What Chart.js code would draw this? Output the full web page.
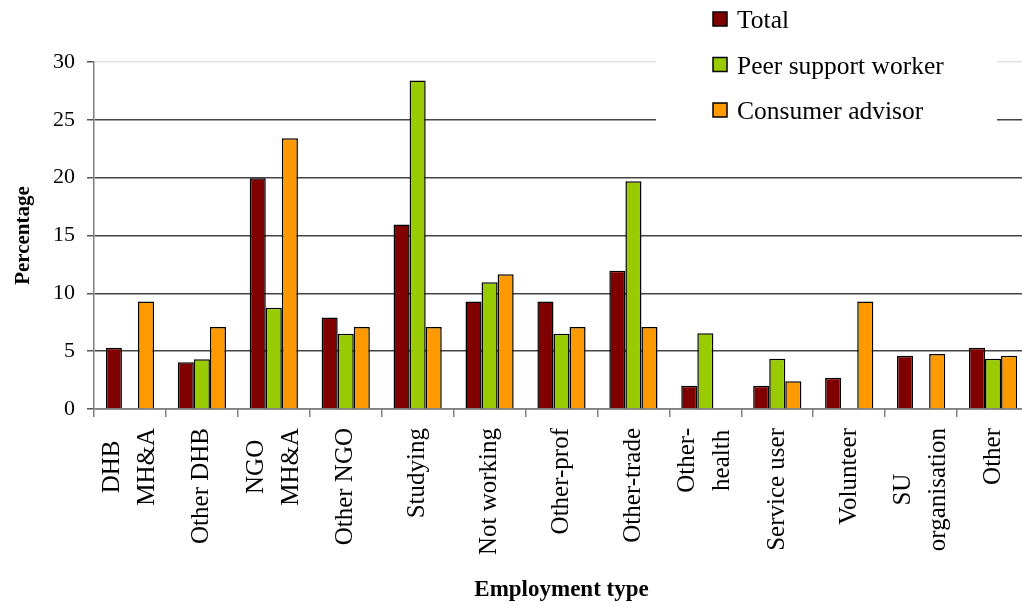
<!DOCTYPE html>
<html>
<head>
<meta charset="utf-8">
<script src="https://cdn.jsdelivr.net/npm/chart.js@4/dist/chart.umd.min.js"></script>
<style>
  html, body { margin: 0; padding: 0; background: #fff; overflow: hidden; }
  #wrap { width: 1030px; height: 606px; position: relative; }
</style>
</head>
<body>
<div id="wrap"><canvas id="c"></canvas></div>
<script>
const categories = [
  ["DHB", "MH&A"], "Other DHB", ["NGO", "MH&A"], "Other NGO", "Studying",
  "Not working", "Other-prof", "Other-trade", ["Other-", "health"],
  "Service user", "Volunteer", ["SU", "organisation"], "Other"
];
const seriesNames = ["Total", "Peer support worker", "Consumer advisor"];
const totalValues = [5.3, 4.05, 19.95, 7.9, 15.95, 9.3, 9.3, 11.95, 2.0, 2.0, 2.7, 4.6, 5.3];
const peerValues = [null, 4.3, 8.75, 6.5, 28.4, 10.95, 6.5, 19.7, 6.55, 4.35, null, null, 4.35];
const consumerValues = [9.3, 7.1, 23.4, 7.1, 7.1, 11.65, 7.1, 7.1, null, 2.4, 9.3, 4.75, 4.6];
const yTicks = [0, 5, 10, 15, 20, 25, 30];
const xTitle = "Employment type";
const yTitle = "Percentage";

const colors = ["#800000", "#99CC00", "#FF9900"];
const serif = "'Liberation Serif', 'DejaVu Serif', serif";

const legendPlugin = {
  id: 'customLegend',
  afterDraw(chart) {
    const ctx = chart.ctx;
    ctx.save();
    ctx.fillStyle = '#fff';
    ctx.fillRect(656, 0, 341, 132);
    ctx.font = "25.5px " + serif;
    ctx.textBaseline = 'alphabetic';
    ctx.textAlign = 'left';
    chart.data.datasets.forEach((ds, i) => {
      const y = 12 + i * 45.5;
      ctx.fillStyle = ds.backgroundColor;
      ctx.fillRect(713, y, 14, 14);
      ctx.lineWidth = 1.5;
      ctx.strokeStyle = '#000';
      ctx.strokeRect(713, y, 14, 14);
      ctx.fillStyle = '#000';
      ctx.fillText(ds.label, 737, y + 16);
    });
    ctx.restore();
  }
};

// draws x category labels rotated 90deg, multi-line blocks centred on the tick
const xLabelPlugin = {
  id: 'xLabels',
  afterDraw(chart) {
    const scale = chart.scales.x;
    const ctx = chart.ctx;
    const size = 25, lh = 35;
    const yEnd = scale.top + 8 + 11;
    ctx.save();
    ctx.font = size + "px " + serif;
    ctx.fillStyle = '#000';
    ctx.textBaseline = 'middle';
    ctx.textAlign = 'right';
    chart.data.labels.forEach((lab, i) => {
      const lines = Array.isArray(lab) ? lab : [lab];
      const px = scale.getPixelForTick(i);
      const widths = lines.map(l => ctx.measureText(l).width);
      const maxW = Math.max(...widths);
      lines.forEach((line, j) => {
        const x = px + (j - (lines.length - 1) / 2) * lh;
        const y = yEnd + (maxW - widths[j]) / 2;
        ctx.save();
        ctx.translate(x, y);
        ctx.rotate(-Math.PI / 2);
        ctx.fillText(line, 0, 0);
        ctx.restore();
      });
    });
    ctx.restore();
  }
};

new Chart(document.getElementById('c'), {
  type: 'bar',
  data: {
    labels: categories,
    datasets: [
      { label: seriesNames[0], data: totalValues, backgroundColor: colors[0] },
      { label: seriesNames[1], data: peerValues, backgroundColor: colors[1] },
      { label: seriesNames[2], data: consumerValues, backgroundColor: colors[2] }
    ].map(d => Object.assign(d, {
      borderColor: '#000', borderWidth: 1.5,
      categoryPercentage: 0.67, barPercentage: 1.0
    }))
  },
  options: {
    responsive: true,
    maintainAspectRatio: false,
    animation: false,
    devicePixelRatio: 1,
    layout: { padding: { top: 62, right: 1, left: 0, bottom: 0 } },
    plugins: {
      legend: { display: false },
      tooltip: { enabled: false }
    },
    scales: {
      x: {
        offset: true,
        grid: { drawOnChartArea: false, drawTicks: true, tickLength: 8, color: '#808080', lineWidth: 1.5 },
        border: { color: '#808080', width: 1.5 },
        ticks: { display: false, autoSkip: false },
        title: {
          display: true, text: xTitle, color: '#000', padding: { top: 0, bottom: 2 },
          font: { family: serif, size: 23, weight: 'bold' }
        },
        afterFit(scale) { scale.height = 197; }
      },
      y: {
        min: 0, max: 30,
        afterBuildTicks(scale) { scale.ticks = yTicks.map(v => ({ value: v })); },
        grid: {
          color: ctx => (ctx.tick && ctx.tick.value === 30) ? '#e4e4e4' : '#444',
          tickColor: '#555', tickLength: 7, lineWidth: 1.5
        },
        border: { color: '#808080', width: 1.5 },
        ticks: {
          color: '#000', padding: 12,
          font: { family: serif, size: 22 }
        },
        title: {
          display: true, text: yTitle, color: '#000', padding: { top: 11, bottom: 0 },
          font: { family: serif, size: 21, weight: 'bold' }
        },
        afterFit(scale) { scale.width = 94; }
      }
    }
  },
  plugins: [legendPlugin, xLabelPlugin]
});
</script>
</body>
</html>
